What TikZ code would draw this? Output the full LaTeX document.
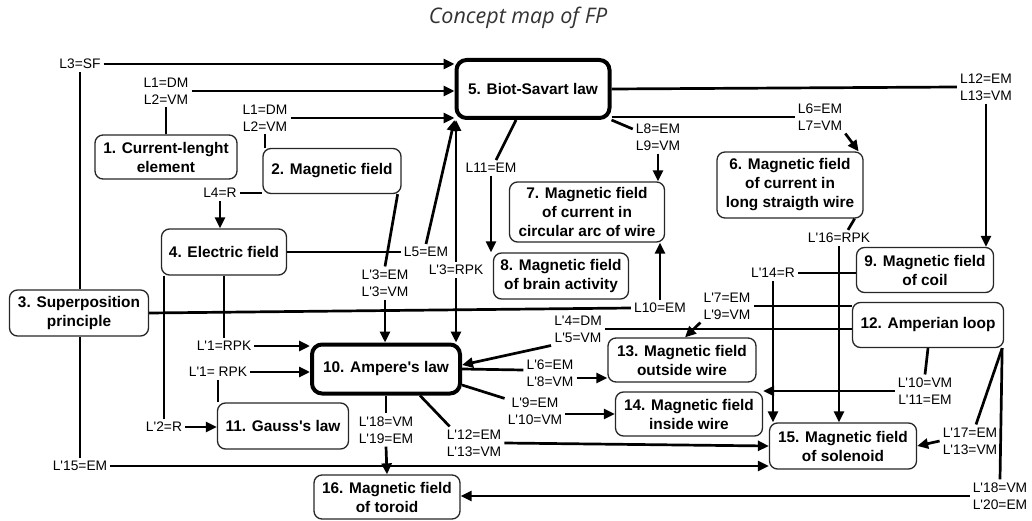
\documentclass[tikz,border=0pt]{standalone}
\usepackage{fontspec}
\setmainfont{Liberation Sans}
\newfontfamily\titlefont{Open Sans}
\usetikzlibrary{arrows.meta,positioning,calc}
\newcommand{\apos}{\textquotesingle}

\begin{document}
\begin{tikzpicture}[x=1pt,y=-1pt,>={Triangle[length=11pt,width=10pt]},
  concept/.style={draw=black!85,line width=1.3pt,rounded corners=8pt,align=center,inner sep=2pt,
    font=\fontsize{15.4}{19}\selectfont\bfseries},
  keyconcept/.style={concept,draw=black,line width=4pt,rounded corners=10pt},
  lbl/.style={align=center,inner sep=3pt,font=\fontsize{13.8}{17}\selectfont},
  link/.style={line width=2.7pt}]
\useasboundingbox (0,0) rectangle (1032,521);

\node[font=\titlefont\itshape\fontsize{21.5}{24}\selectfont,text=black!80] (title) at (518,18) {Concept map of FP};

% concepts
\node[concept,minimum width=142pt,minimum height=44pt] (n1) at (166,157) {1. Current-lenght\\element};
\node[concept,minimum width=138pt,minimum height=45pt] (n2) at (332,171) {2. Magnetic field};
\node[concept,minimum width=139pt,minimum height=46pt] (n3) at (79,313) {3. Superposition\\principle};
\node[concept,minimum width=125pt,minimum height=46pt] (n4) at (224,252) {4. Electric field};
\node[keyconcept,minimum width=153pt,minimum height=58pt] (n5) at (533,89) {5. Biot-Savart law};
\node[concept,minimum width=146pt,minimum height=66pt] (n6) at (790,185) {6. Magnetic field\\of current in\\long straigth wire};
\node[concept,minimum width=155pt,minimum height=60pt] (n7) at (587,212) {7. Magnetic field\\of current in\\circular arc of wire};
\node[concept,minimum width=135pt,minimum height=46pt] (n8) at (561,276) {8. Magnetic field\\of brain activity};
\node[concept,minimum width=137pt,minimum height=45pt] (n9) at (925,270) {9. Magnetic field\\of coil};
\node[keyconcept,minimum width=148pt,minimum height=49pt] (n10) at (386,369) {10. Ampere\apos s law};
\node[concept,minimum width=131pt,minimum height=46pt] (n11) at (283,426) {11. Gauss\apos s law};
\node[concept,minimum width=151pt,minimum height=45pt] (n12) at (928,325) {12. Amperian loop};
\node[concept,minimum width=148pt,minimum height=44pt] (n13) at (682,360) {13. Magnetic field\\outside wire};
\node[concept,minimum width=147pt,minimum height=44pt] (n14) at (689,414) {14. Magnetic field\\inside wire};
\node[concept,minimum width=147pt,minimum height=46pt] (n15) at (843,446) {15. Magnetic field\\of solenoid};
\node[concept,minimum width=146pt,minimum height=44pt] (n16) at (387,497) {16. Magnetic field\\of toroid};

% link labels
\node[lbl] (l3) at (80,64) {L3=SF};
\node[lbl] (la) at (166,91) {L1=DM\\L2=VM};
\node[lbl] (lb) at (265,118) {L1=DM\\L2=VM};
\node[lbl] (l4) at (220,193) {L4=R};
\node[lbl] (l5) at (426,252) {L5=EM};
\node[lbl] (l3a) at (385,283) {L\apos3=EM\\L\apos3=VM};
\node[lbl] (l3b) at (456,270) {L\apos3=RPK};
\node[lbl] (l11) at (491,168) {L11=EM};
\node[lbl] (l8) at (658,137) {L8=EM\\L9=VM};
\node[lbl] (l6) at (820,117) {L6=EM\\L7=VM};
\node[lbl] (l12) at (986,87) {L12=EM\\L13=VM};
\node[lbl] (l16) at (839,238) {L\apos16=RPK};
\node[lbl] (l14) at (773,273) {L\apos14=R};
\node[lbl] (l7) at (727,306) {L\apos7=EM\\L\apos9=VM};
\node[lbl] (l4p) at (578,329) {L\apos4=DM\\L\apos5=VM};
\node[lbl] (l10) at (660,308) {L10=EM};
\node[lbl] (l1a) at (224,346) {L\apos1=RPK};
\node[lbl] (l1b) at (218,372) {L\apos1= RPK};
\node[lbl] (l2) at (164,427) {L\apos2=R};
\node[lbl] (l15) at (80,466) {L\apos15=EM};
\node[lbl] (l18a) at (386,430) {L\apos18=VM\\L\apos19=EM};
\node[lbl] (l12p) at (474,443) {L\apos12=EM\\L\apos13=VM};
\node[lbl] (l6p) at (550,373) {L\apos6=EM\\L\apos8=VM};
\node[lbl] (l9p) at (535,411) {L\apos9=EM\\L\apos10=VM};
\node[lbl] (l10p) at (925,391) {L\apos10=VM\\L\apos11=EM};
\node[lbl] (l17) at (970,441) {L\apos17=EM\\L\apos13=VM};
\node[lbl] (l18b) at (1000,496) {L\apos18=VM\\L\apos20=EM};

% links into 5
\draw[link] (l3.south) -- (l3.south |- n3.north);
\draw[link,->] (l3.east) -- (l3.east -| n5.west);
\draw[link] (n1.north) -- (la.south);
\draw[link,->] (la.east) -- (la.east -| n5.west);
\draw[link] (lb.south |- n2.north) -- (lb.south);
\draw[link,->] (lb.east) -- (lb.east -| n5.west);
\draw[link] (l4.east) -- (l4.east -| n2.west);
\draw[link,->] (l4.south) -- (l4.south |- n4.north);
\draw[link] (n4.east) -- (l5.west);
\draw[link,->] (l5.north) -- (n5.south west);
\draw[link] ([xshift=-4pt]n2.south east) -- (l3a.north);
\draw[link,->] (l3a.south) -- (l3a.south |- n10.north);
\draw[link,->] (l3b.north) -- (l3b.north |- n5.south);
\draw[link,->] (l3b.south) -- (l3b.south |- n10.north);

% links out of 5
\draw[link] ([xshift=-17pt]n5.south) -- ([xshift=5pt]l11.north);
\draw[link,->] (l11.south) -- (l11.south |- n8.north);
\draw[link] (n5.south east) -- ([yshift=8pt]l8.west);
\draw[link,->] (l8.south) -- (l8.south |- n7.north);
\draw[link] (l6.west -| n5.east) -- (l6.west);
\draw[link,->] (l6.south east) -- ([xshift=-5pt]n6.north east);
\draw[link] (n5.east) -- (l12.west);
\draw[link,->] (l12.south) -- (l12.south |- n9.north);

% right side
\draw[link] ([xshift=-9pt]n6.south east) -- ([xshift=9pt]l16.north);
\draw[link,->] (l16.south) -- (l16.south |- n15.north);
\draw[link] (l14.east) -- (l14.east -| n9.west);
\draw[link,->] (l14.south) -- (l14.south |- n15.north);
\draw[link] (l7.east) -- (l7.east -| n12.west);
\draw[link,->] (l7.south west) -- ([xshift=3pt]n13.north);
\draw[link] (l4p.east -| n12.west) -- (l4p.east);
\draw[link,->] (l4p.south west) -- ([yshift=4pt]n10.east);
\draw[link] (n3.east) -- (l10.west);
\draw[link,->] (l10.north) -- (l10.north |- n7.south);

% around 10
\draw[link] (n4.south) -- (l1a.north);
\draw[link,->] (l1a.east) -- (l1a.east -| n10.west);
\draw[link] (l1b.south |- n11.north) -- (l1b.south);
\draw[link,->] (l1b.east) -- (l1b.east -| n10.west);
\draw[link] (l2.north |- n4.south) -- (l2.north);
\draw[link,->] (l2.east) -- (l2.east -| n11.west);
\draw[link] (l15.north |- n3.south) -- (l15.north);
\draw[link,->] (l15.east) -- (l15.east -| n15.west);
\draw[link] (n10.south) -- (l18a.north);
\draw[link,->] (l18a.south) -- (n16.north);
\draw[link] ([xshift=34pt]n10.south) -- ([xshift=6pt]l12p.north west);
\draw[link,->] (l12p.east) -- (n15.west);
\draw[link] (n10.east) -- ([yshift=3pt]l6p.west);
\draw[link,->] ([yshift=-5pt]l6p.east) -- ([yshift=-5pt]l6p.east -| n13.west);
\draw[link] ([yshift=-16pt]n10.east) -- ([yshift=-4pt]l9p.north west);
\draw[link,->] ([yshift=-3pt]l9p.east) -- ([yshift=-3pt]l9p.east -| n14.west);

% out of 12
\draw[link] (n12.south) -- (l10p.north);
\draw[link,->] (l10p.west) -- (l10p.west -| n14.east);
\draw[link] ([xshift=-2pt]n12.south east) -- ([xshift=6pt]l17.north);
\draw[link,->] (l17.west) -- (n15.east);
\draw[link] ([xshift=-2pt]n12.south east) -- (l18b.north);
\draw[link,->] (l18b.west) -- (l18b.west -| n16.east);
\end{tikzpicture}
\end{document}
